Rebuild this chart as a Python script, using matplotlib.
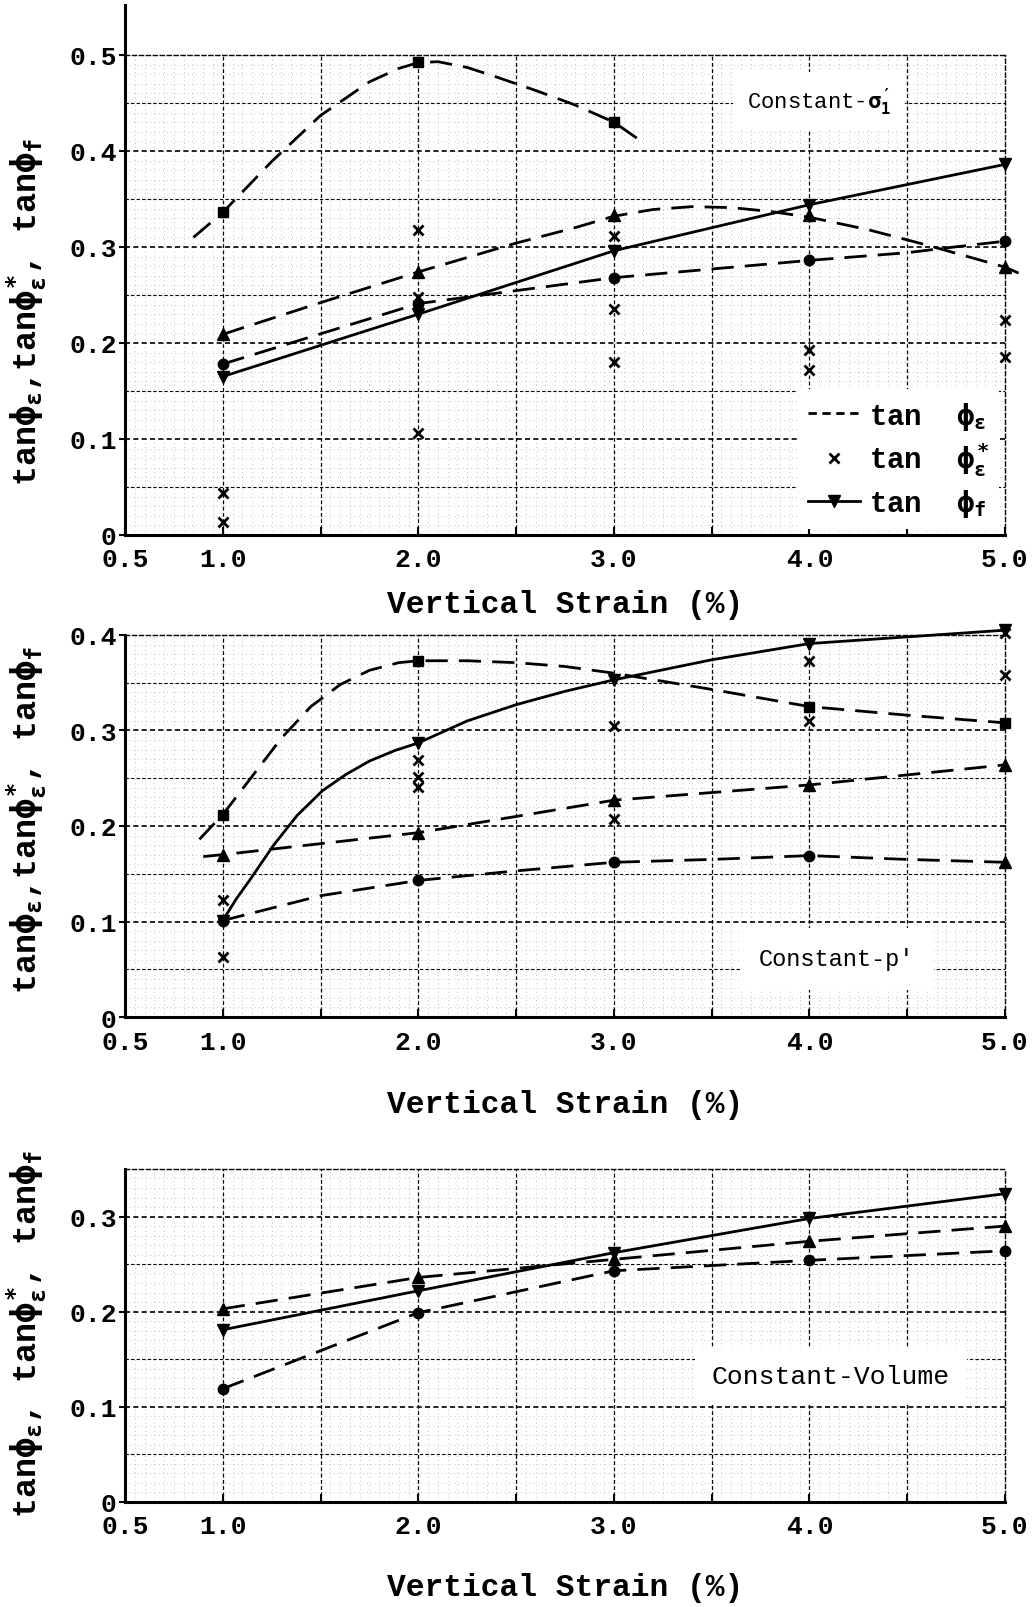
import numpy as np
import matplotlib
matplotlib.use("Agg")
import matplotlib.pyplot as plt
from matplotlib.lines import Line2D

plt.rcParams['font.family'] = ['Liberation Mono', 'DejaVu Sans Mono', 'DejaVu Sans']
plt.rcParams['font.weight'] = 'bold'
plt.rcParams['mathtext.fontset'] = 'custom'
plt.rcParams['mathtext.rm'] = 'DejaVu Sans Mono'
plt.rcParams['mathtext.it'] = 'DejaVu Sans Mono'
plt.rcParams['mathtext.bf'] = 'DejaVu Sans Mono:bold'
plt.rcParams['mathtext.sf'] = 'DejaVu Sans Mono'

# ---------------- data ----------------
strain = [1.0, 2.0, 3.0, 4.0, 5.0]
xtick_vals = [0.5, 1.0, 1.5, 2.0, 2.5, 3.0, 3.5, 4.0, 4.5, 5.0]
xtick_labels = ['0.5', '1.0', '', '2.0', '', '3.0', '', '4.0', '', '5.0']

# Panel 1: Constant-sigma1'
s_sq_x = [1.0, 2.0, 3.0]
s_sq_y = [0.336, 0.493, 0.430]
s_sq_cx = [0.85, 1.0, 1.25, 1.5, 1.75, 1.9, 2.0, 2.1, 2.25, 2.4, 2.6, 2.8, 3.0, 3.12]
s_sq_cy = [0.310, 0.336, 0.389, 0.437, 0.472, 0.486, 0.492, 0.493, 0.487, 0.477, 0.463, 0.448, 0.430, 0.413]
s_up_y = [0.209, 0.274, 0.333, 0.333, 0.279]
s_up_cx = [1.0, 1.5, 2.0, 2.5, 2.8, 3.0, 3.2, 3.4, 3.6, 3.8, 4.0, 4.3, 4.6, 5.0, 5.1]
s_up_cy = [0.209, 0.242, 0.274, 0.304, 0.320, 0.332, 0.339, 0.342, 0.341, 0.337, 0.331, 0.318, 0.302, 0.279, 0.270]
s_ci_y = [0.178, 0.241, 0.268, 0.286, 0.306]
s_ci_cx = [1.0, 2.0, 3.0, 4.0, 4.5, 4.7, 5.0]
s_ci_cy = [0.178, 0.241, 0.268, 0.286, 0.294, 0.299, 0.306]
s_dn_y = [0.165, 0.230, 0.296, 0.344, 0.386]
s_star_x = [1, 1, 2, 2, 2, 3, 3, 3, 4, 4, 5, 5]
s_star_y = [0.044, 0.013, 0.318, 0.248, 0.106, 0.311, 0.235, 0.180, 0.193, 0.172, 0.224, 0.185]

# Panel 2: Constant-p'
p_sq_x = [1.0, 2.0, 4.0, 5.0]
p_sq_y = [0.212, 0.373, 0.325, 0.308]
p_sq_cx = [0.88, 1.0, 1.15, 1.3, 1.45, 1.6, 1.75, 1.9, 2.0, 2.25, 2.5, 2.75, 3.0, 3.5, 4.0, 4.5, 5.0]
p_sq_cy = [0.186, 0.212, 0.252, 0.292, 0.325, 0.348, 0.363, 0.371, 0.373, 0.373, 0.371, 0.367, 0.360, 0.343, 0.325, 0.316, 0.308]
p_dn_y = [0.101, 0.287, 0.353, 0.391, 0.405]
p_dn_cx = [1.0, 1.07, 1.14, 1.26, 1.38, 1.51, 1.63, 1.75, 1.88, 2.0, 2.25, 2.5, 2.75, 3.0, 3.5, 4.0, 4.5, 5.0]
p_dn_cy = [0.101, 0.124, 0.144, 0.180, 0.211, 0.237, 0.254, 0.268, 0.279, 0.287, 0.310, 0.327, 0.341, 0.353, 0.374, 0.391, 0.398, 0.405]
p_up_cx = [0.9, 1.0, 2.0, 3.0, 4.0, 5.0]
p_up_cy = [0.168, 0.170, 0.193, 0.227, 0.243, 0.264]
p_up_y = [0.170, 0.193, 0.227, 0.243, 0.264]
p_ci_x = [1.0, 2.0, 3.0, 4.0]
p_ci_y = [0.101, 0.143, 0.162, 0.169]
p_ci_cx = [1.0, 1.5, 2.0, 2.5, 3.0, 3.5, 4.0, 4.5, 5.0]
p_ci_cy = [0.101, 0.127, 0.143, 0.153, 0.162, 0.165, 0.169, 0.165, 0.162]
p_ci_end_x = [5.0]
p_ci_end_y = [0.162]
p_star_x = [1, 1, 2, 2, 2, 3, 3, 4, 4, 5, 5]
p_star_y = [0.122, 0.063, 0.269, 0.251, 0.241, 0.305, 0.207, 0.373, 0.310, 0.402, 0.358]

# Panel 3: Constant-Volume
v_dn_y = [0.181, 0.222, 0.262, 0.298, 0.324]
v_up_y = [0.203, 0.236, 0.255, 0.274, 0.290]
v_ci_y = [0.119, 0.199, 0.243, 0.254, 0.264]

# ---------------- figure ----------------
fig = plt.figure(figsize=(10.35, 16.08), dpi=100)
L, W = 0.1208, 0.8502
ax1 = fig.add_axes([L, 0.6667, W, 0.2985])
ax2 = fig.add_axes([L, 0.3669, W, 0.2376])
ax3 = fig.add_axes([L, 0.0653, W, 0.2071])

DASH = (8, 4)
LW = 2.0


def style(ax, ymax, yticks, ylabels):
    ax.set_xlim(0.5, 5.0)
    ax.set_ylim(0, ymax)
    # minor dotted grid (graph paper)
    for xv in np.arange(0.55, 5.0, 0.05):
        ax.axvline(xv, color='0.55', lw=0.5, ls=(0, (1, 5)), zorder=0)
    for yv in np.arange(0.01, ymax, 0.01):
        ax.axhline(yv, color='0.55', lw=0.5, ls=(0, (1, 5)), zorder=0)
    # major dashed grid
    for xv in np.arange(1.0, 5.0, 0.5):
        ax.axvline(xv, color='black', lw=0.9, ls=(0, (3, 2)), zorder=0.5)
    for yv in np.arange(0.05, ymax - 1e-6, 0.05):
        heavy = abs(round(yv / 0.1) * 0.1 - yv) < 1e-6
        ax.axhline(yv, color='black', lw=1.2 if heavy else 0.8, ls=(0, (3, 2)), zorder=0.5)
    for s in ['left', 'bottom']:
        ax.spines[s].set_linewidth(2.2)
    for s in ['top', 'right']:
        ax.spines[s].set_linewidth(1.0)
        ax.spines[s].set_linestyle((0, (3, 2)))
    ax.set_xticks(xtick_vals)
    ax.set_xticklabels(xtick_labels)
    ax.set_yticks(yticks)
    ax.set_yticklabels(ylabels)
    ax.tick_params(axis='x', direction='in', length=6, width=1.5, pad=9, labelsize=19)
    ax.tick_params(axis='y', direction='out', length=4, width=1.5, pad=2, labelsize=19)


style(ax1, 0.5, [0, 0.1, 0.2, 0.3, 0.4, 0.5], ['0', '0.1', '0.2', '0.3', '0.4', '0.5'])
style(ax2, 0.4, [0, 0.1, 0.2, 0.3, 0.4], ['0', '0.1', '0.2', '0.3', '0.4'])
style(ax3, 0.35, [0, 0.1, 0.2, 0.3], ['0', '0.1', '0.2', '0.3'])

ax1.plot([0.5, 0.5], [0.5, 0.552], color='black', lw=2.2, clip_on=False)

mk = dict(color='black', ls='none', clip_on=False, zorder=5)
dsh = dict(color='black', lw=LW, ls='--', dashes=DASH, zorder=3, clip_on=False)
sol = dict(color='black', lw=LW, ls='-', zorder=3, clip_on=False)

# ---- panel 1
ax1.plot(s_sq_cx, s_sq_cy, **dsh)
ax1.plot(s_sq_x, s_sq_y, marker='s', ms=7.5, **mk)
ax1.plot(s_up_cx, s_up_cy, **dsh)
ax1.plot(strain, s_up_y, marker='^', ms=8.5, **mk)
ax1.plot(s_ci_cx, s_ci_cy, **dsh)
ax1.plot(strain, s_ci_y, marker='o', ms=7.5, **mk)
ax1.plot(strain, s_dn_y, **sol)
ax1.plot(strain, s_dn_y, marker='v', ms=8.5, **mk)
ax1.plot(s_star_x, s_star_y, marker='x', ms=6.5, mew=2, **mk)

ax1.text(4.05, 0.452, r"Constant-$\sigma_1'$", fontsize=16, fontweight='normal',
         ha='center', va='center', zorder=6,
         bbox=dict(facecolor='white', edgecolor='none', pad=10))

handles = [Line2D([], [], color='black', lw=LW, ls='--', dashes=(3, 2)),
           Line2D([], [], color='black', ls='none', marker='x', ms=7, mew=2),
           Line2D([], [], color='black', lw=LW, ls='-', marker='v', ms=8)]
labels = [r"tan  $\phi_{\varepsilon}$", r"tan  $\phi^{*}_{\varepsilon}$", r"tan  $\phi_{f}$"]
leg = ax1.legend(handles, labels, loc='lower right', bbox_to_anchor=(1.0, 0.0),
                 fontsize=21, frameon=True, fancybox=False, edgecolor='none',
                 facecolor='white', framealpha=1.0, handlelength=1.8,
                 handletextpad=0.3, borderaxespad=0.2, labelspacing=0.3,
                 borderpad=0.35)
leg.set_zorder(7)

# ---- panel 2
ax2.plot(p_sq_cx, p_sq_cy, **dsh)
ax2.plot(p_sq_x, p_sq_y, marker='s', ms=7.5, **mk)
ax2.plot(p_dn_cx, p_dn_cy, **sol)
ax2.plot(strain, p_dn_y, marker='v', ms=8.5, **mk)
ax2.plot(p_up_cx, p_up_cy, **dsh)
ax2.plot(strain, p_up_y, marker='^', ms=8.5, **mk)
ax2.plot(p_ci_cx, p_ci_cy, **dsh)
ax2.plot(p_ci_x, p_ci_y, marker='o', ms=7.5, **mk)
ax2.plot(p_ci_end_x, p_ci_end_y, marker='^', ms=8.5, **mk)
ax2.plot(p_star_x, p_star_y, marker='x', ms=6.5, mew=2, **mk)

ax2.text(4.14, 0.061, "Constant-p'", fontsize=17, fontweight='normal',
         ha='center', va='center', zorder=6,
         bbox=dict(facecolor='white', edgecolor='none', pad=14))

# ---- panel 3
ax3.plot(strain, v_dn_y, **sol)
ax3.plot(strain, v_dn_y, marker='v', ms=8.5, **mk)
ax3.plot(strain, v_up_y, **dsh)
ax3.plot(strain, v_up_y, marker='^', ms=8.5, **mk)
ax3.plot(strain, v_ci_y, **dsh)
ax3.plot(strain, v_ci_y, marker='o', ms=7.5, **mk)

ax3.text(4.11, 0.132, "Constant-Volume", fontsize=19, fontweight='normal',
         ha='center', va='center', zorder=6,
         bbox=dict(facecolor='white', edgecolor='none', pad=12))

# ---- axis labels
for yc in [1 - 605 / 1608, 1 - 1105 / 1608, 1 - 1588 / 1608]:
    fig.text(0.546, yc, "Vertical Strain (%)", fontsize=22.5, ha='center', va='center')

ylab_a = r"tan$\phi_{\varepsilon}$,tan$\phi^{*}_{\varepsilon}$, tan$\phi_{f}$"
ylab_b = r"tan$\phi_{\varepsilon}$, tan$\phi^{*}_{\varepsilon}$, tan$\phi_{f}$"
fig.text(0.026, 0.806, ylab_a, rotation=90, fontsize=24, ha='center', va='center')
fig.text(0.026, 0.490, ylab_a, rotation=90, fontsize=24, ha='center', va='center')
fig.text(0.026, 0.170, ylab_b, rotation=90, fontsize=24, ha='center', va='center')

fig.savefig("out.png", dpi=100, facecolor='white')
